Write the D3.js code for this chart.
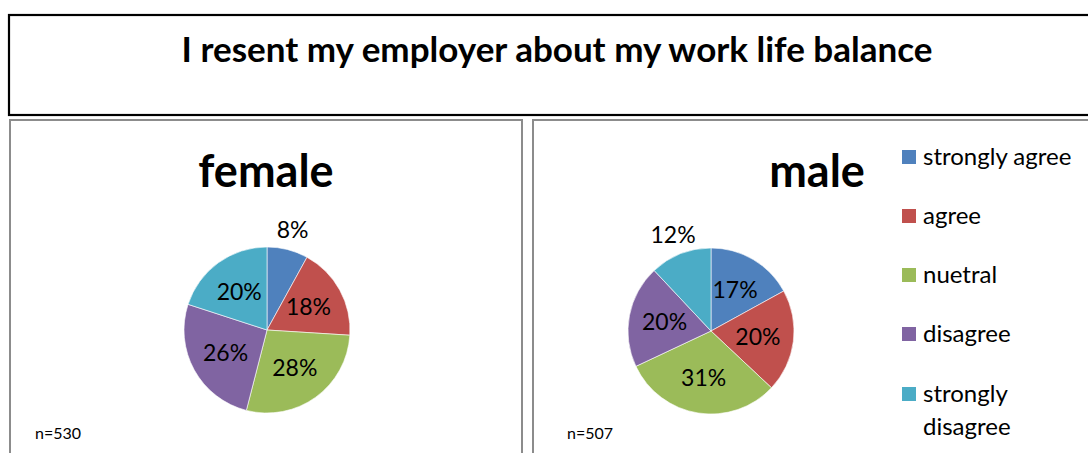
<!DOCTYPE html>
<html><head><meta charset="utf-8">
<script src="https://cdn.jsdelivr.net/npm/d3@7"></script>
<style>body{margin:0;background:#fff;} svg{display:block;font-family:Lato,"Open Sans",sans-serif;}</style>
</head><body>
<svg id="c" width="1088" height="453"></svg>
<script>
const title = "I resent my employer about my work life balance";
const categories = ["strongly agree","agree","nuetral","disagree","strongly disagree"];
const colors = ["#4f81bd","#c0504d","#9bbb59","#8064a2","#4bacc6"];
const femaleValues = [8,18,28,26,20];
const maleValues = [17,20,31,20,12];
const panelTitles = ["female","male"];
const sampleSizes = ["n=530","n=507"];

const svg = d3.select("#c");
// title box
svg.append("rect").attr("x",9).attr("y",15).attr("width",1090).attr("height",100)
  .attr("fill","#fff").attr("stroke","#000").attr("stroke-width",2.2);
svg.append("text").attr("x",557).attr("y",62).attr("text-anchor","middle")
  .attr("font-weight","bold").attr("font-size",35).attr("fill","#000").text(title);

const panels = [
  {x:10,w:512,cx:267,cy:330,vals:femaleValues,tx:266,nx:35},
  {x:533,w:570,cx:711,cy:331,vals:maleValues,tx:817,nx:567}
];
const r = 83;
const pie = d3.pie().sort(null).value(d=>d);
const arc = d3.arc().innerRadius(0).outerRadius(r);
const inner = d3.arc().innerRadius(r*0.57).outerRadius(r*0.57);
const outer = d3.arc().innerRadius(r+20).outerRadius(r+20);

panels.forEach((p,i)=>{
  svg.append("rect").attr("x",p.x).attr("y",120).attr("width",p.w).attr("height",400)
    .attr("fill","#fff").attr("stroke","#8c8c8c").attr("stroke-width",2);
  svg.append("text").attr("x",p.tx).attr("y",187).attr("text-anchor","middle")
    .attr("font-weight","bold").attr("font-size",45).text(panelTitles[i]);
  const g = svg.append("g").attr("transform",`translate(${p.cx},${p.cy})`);
  const arcs = pie(p.vals);
  g.selectAll("path").data(arcs).join("path").attr("d",arc)
    .attr("fill",(d,j)=>colors[j]).attr("stroke","#fff").attr("stroke-width",0.6);
  g.selectAll("text").data(arcs).join("text")
    .attr("transform",d=>{const c=(d.data<15?outer:inner).centroid(d);return `translate(${c[0]},${c[1]})`;})
    .attr("text-anchor","middle").attr("dy","0.35em").attr("font-size",23).attr("fill","#000")
    .text(d=>d.data+"%");
  svg.append("text").attr("x",p.nx).attr("y",439).attr("font-size",16).text(sampleSizes[i]);
});

// legend
const lg = svg.append("g");
const ly = [157,216,275,334,394];
categories.forEach((c,i)=>{
  lg.append("rect").attr("x",902).attr("y",ly[i]-7).attr("width",14).attr("height",14).attr("fill",colors[i]);
  const words = c==="strongly disagree" ? ["strongly","disagree"] : [c];
  words.forEach((w,k)=>lg.append("text").attr("x",923).attr("y",ly[i]+k*33).attr("dy","0.35em")
    .attr("font-size",24).text(w));
});
</script>
</body></html>
